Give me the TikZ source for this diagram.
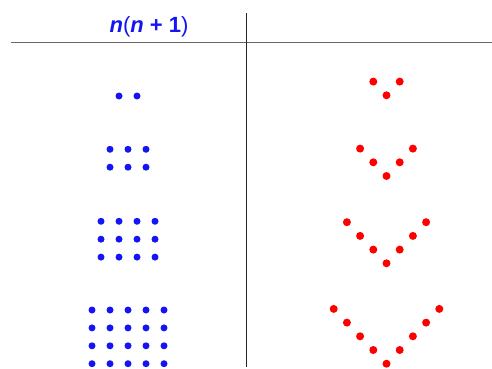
\documentclass[tikz,border=0pt]{standalone}
\usepackage{fontspec}
\setmainfont{Liberation Sans}
\definecolor{dotblue}{RGB}{20,20,245}
\definecolor{dotred}{RGB}{255,0,0}
\tikzset{
  bdot/.style={circle,fill=dotblue,inner sep=0pt,minimum size=7pt},
  rdot/.style={circle,fill=dotred,inner sep=0pt,minimum size=8pt},
  rule/.style={line width=1pt},
}
\begin{document}
\begin{tikzpicture}[x=1pt,y=-1pt]
\useasboundingbox (0,0) rectangle (492,369);
% rules
\coordinate (hl) at (11,42.7);
\coordinate (hr) at (492,42.7);
\coordinate (vt) at (246.5,13);
\coordinate (vb) at (246.5,366.7);
\draw[rule,color=black!60] (hl) -- (hr);
\draw[rule,color=black!85] (vt) -- (vb);
% header
\node[anchor=base,text=dotblue,font=\fontsize{22}{24}\selectfont,inner sep=0pt] (hdr) at (149,32.5)
  {\textbf{\textit{n}}(\textbf{\textit{n}} \textbf{+} \textbf{1})};
% blue oblong arrays
\foreach \n/\ytop in {1/96,2/149.3,3/221.3,4/310}{
  \pgfmathtruncatemacro{\m}{\n+1}
  \foreach \i in {1,...,\m}{
    \foreach \j in {1,...,\n}{
      \node[bdot] (b\n-\i-\j) at ({128+18*(\i-1-(\m-1)/2)},{\ytop+17.9*(\j-1)}) {};
    }
  }
}
% red V shapes
\foreach \n/\ybot in {1/95.3,2/176,3/263.3,4/363.7}{
  \node[rdot] (r\n-0) at (386.5,\ybot) {};
  \foreach \k in {1,...,\n}{
    \node[rdot] (r\n-l\k) at ({386.5-13.2*\k},{\ybot-13.7*\k}) {};
    \node[rdot] (r\n-r\k) at ({386.5+13.2*\k},{\ybot-13.7*\k}) {};
  }
}
\end{tikzpicture}
\end{document}
